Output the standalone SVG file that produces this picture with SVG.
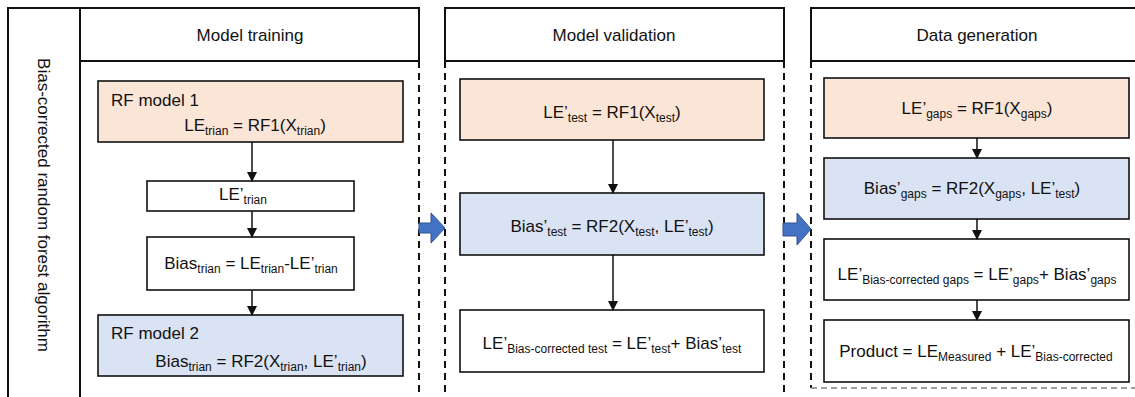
<svg xmlns="http://www.w3.org/2000/svg" width="1135" height="397" viewBox="0 0 1135 397">
<style>
text{font-family:"Liberation Sans",Arial,sans-serif;fill:#111;font-size:17px}
.c{text-anchor:middle}
.s{font-size:12px}
.frame{fill:#fff;stroke:#111;stroke-width:2}
.dash{stroke:#111;stroke-width:2;stroke-dasharray:7,5;fill:none}
.box{stroke:#111;stroke-width:1.6}
.w{fill:#fff}
.p{fill:#fbe5d6}
.b{fill:#dae3f3}
.con{stroke:#111;stroke-width:1.5;fill:none;marker-end:url(#ah)}
.blk{fill:#4472c4;stroke:#2f528f;stroke-width:1}
</style>
<defs>
<marker id="ah" markerWidth="10" markerHeight="10" refX="9" refY="5" orient="auto" markerUnits="userSpaceOnUse">
<path d="M0,0 L10,5 L0,10 Z" fill="#111"/>
</marker>
</defs>
<rect width="1135" height="397" fill="#fff"/>

<g id="side-label">
<rect class="frame" x="8" y="8" width="72" height="400"/>
<text class="c" transform="translate(38,205) rotate(90)">Bias-corrected random forest algorithm</text>
</g>

<g id="panel-training">
<rect class="frame" x="80" y="8" width="339" height="53"/>
<text class="c" x="250" y="41">Model training</text>
<line class="dash" x1="419" y1="61" x2="419" y2="397"/>
</g>
<g id="panel-validation">
<rect class="frame" x="445" y="8" width="339" height="53"/>
<text class="c" x="614" y="41">Model validation</text>
<line class="dash" x1="445" y1="61" x2="445" y2="397"/>
<line class="dash" x1="784" y1="61" x2="784" y2="397"/>
</g>
<g id="panel-generation">
<rect class="frame" x="811" y="8" width="340" height="53"/>
<text class="c" x="977" y="41">Data generation</text>
<line class="dash" x1="811" y1="61" x2="811" y2="388"/>
<line x1="811" y1="388" x2="1135" y2="388" stroke="#808080" stroke-width="1.5" stroke-dasharray="6,4"/>
</g>

<g id="rf1">
<rect class="box p" x="98" y="81" width="305" height="61"/>
<text x="111" y="106">RF model 1</text>
<text class="c" x="255" y="131">LE<tspan class="s" dy="4">trian</tspan><tspan dy="-4"> = RF1(X</tspan><tspan class="s" dy="4">trian</tspan><tspan dy="-4">)</tspan></text>
</g>
<g id="le-trian">
<rect class="box w" x="147" y="181" width="207" height="30"/>
<text class="c" x="243" y="200">LE’<tspan class="s" dy="4">trian</tspan></text>
</g>
<g id="bias-trian">
<rect class="box w" x="147" y="237" width="207" height="53"/>
<text class="c" x="251" y="269">Bias<tspan class="s" dy="4">trian</tspan><tspan dy="-4"> = LE</tspan><tspan class="s" dy="4">trian</tspan><tspan dy="-4">-LE’</tspan><tspan class="s" dy="4">trian</tspan></text>
</g>
<g id="rf2">
<rect class="box b" x="98" y="315" width="305" height="61"/>
<text x="111" y="339">RF model 2</text>
<text class="c" x="261" y="367">Bias<tspan class="s" dy="4">trian</tspan><tspan dy="-4"> = RF2(X</tspan><tspan class="s" dy="4">trian</tspan><tspan dy="-4">, LE’</tspan><tspan class="s" dy="4">trian</tspan><tspan dy="-4">)</tspan></text>
</g>

<g id="le-test">
<rect class="box p" x="460" y="79" width="304" height="61"/>
<text class="c" x="612" y="118">LE’<tspan class="s" dy="4">test</tspan><tspan dy="-4"> = RF1(X</tspan><tspan class="s" dy="4">test</tspan><tspan dy="-4">)</tspan></text>
</g>
<g id="bias-test">
<rect class="box b" x="460" y="193" width="304" height="62"/>
<text class="c" x="612" y="232">Bias’<tspan class="s" dy="4">test</tspan><tspan dy="-4"> = RF2(X</tspan><tspan class="s" dy="4">test</tspan><tspan dy="-4">, LE’</tspan><tspan class="s" dy="4">test</tspan><tspan dy="-4">)</tspan></text>
</g>
<g id="le-bc-test">
<rect class="box w" x="460" y="310" width="304" height="62"/>
<text class="c" x="612" y="349">LE’<tspan class="s" dy="4">Bias-corrected test</tspan><tspan dy="-4"> = LE’</tspan><tspan class="s" dy="4">test</tspan><tspan dy="-4">+ Bias’</tspan><tspan class="s" dy="4">test</tspan></text>
</g>

<g id="le-gaps">
<rect class="box p" x="824" y="78" width="305" height="60"/>
<text class="c" x="977" y="114">LE’<tspan class="s" dy="4">gaps</tspan><tspan dy="-4"> = RF1(X</tspan><tspan class="s" dy="4">gaps</tspan><tspan dy="-4">)</tspan></text>
</g>
<g id="bias-gaps">
<rect class="box b" x="824" y="158" width="305" height="61"/>
<text class="c" x="972" y="194">Bias’<tspan class="s" dy="4">gaps</tspan><tspan dy="-4"> = RF2(X</tspan><tspan class="s" dy="4">gaps</tspan><tspan dy="-4">, LE’</tspan><tspan class="s" dy="4">test</tspan><tspan dy="-4">)</tspan></text>
</g>
<g id="le-bc-gaps">
<rect class="box w" x="824" y="239" width="305" height="61"/>
<text class="c" x="977" y="280">LE’<tspan class="s" dy="4">Bias-corrected gaps</tspan><tspan dy="-4"> = LE’</tspan><tspan class="s" dy="4">gaps</tspan><tspan dy="-4">+ Bias’</tspan><tspan class="s" dy="4">gaps</tspan></text>
</g>
<g id="product">
<rect class="box w" x="824" y="320" width="305" height="62"/>
<text class="c" x="976" y="357">Product = LE<tspan class="s" dy="4">Measured</tspan><tspan dy="-4"> + LE’</tspan><tspan class="s" dy="4">Bias-corrected</tspan></text>
</g>

<g id="connectors">
<line class="con" x1="252" y1="142" x2="252" y2="181"/>
<line class="con" x1="252" y1="211" x2="252" y2="237"/>
<line class="con" x1="252" y1="290" x2="252" y2="315"/>
<line class="con" x1="613" y1="140" x2="613" y2="193"/>
<line class="con" x1="613" y1="255" x2="613" y2="310"/>
<line class="con" x1="977" y1="138" x2="977" y2="158"/>
<line class="con" x1="977" y1="219" x2="977" y2="239"/>
<line class="con" x1="977" y1="300" x2="977" y2="320"/>
<path class="blk" d="M419,223 L431,223 L431,213 L445,228 L431,243 L431,233 L419,233 Z"/>
<path class="blk" d="M783,223 L797,223 L797,213 L811,229 L797,245 L797,236 L783,236 Z"/>
</g>
</svg>
